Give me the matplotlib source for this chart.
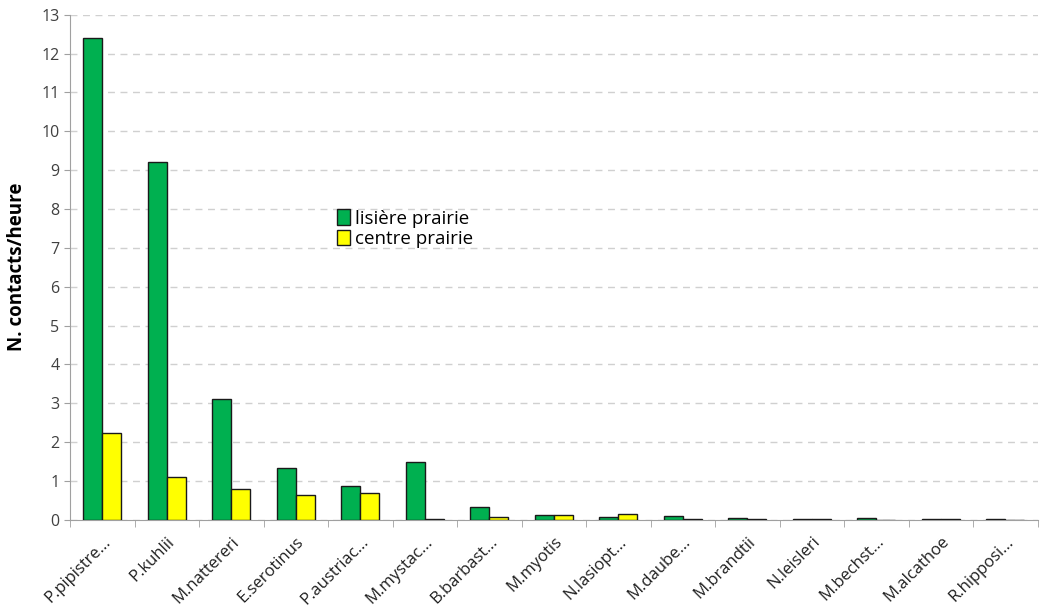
import numpy as np
import matplotlib.pyplot as plt

# Species and contact rates (contacts/hour)
species = ['P.pipistre...', 'P.kuhlii', 'M.nattereri', 'E.serotinus', 'P.austriac...',
           'M.mystac...', 'B.barbast...', 'M.myotis', 'N.lasiopt...', 'M.daube...',
           'M.brandtii', 'N.leisleri', 'M.bechst...', 'M.alcathoe', 'R.hipposi...']
lisiere = [12.4, 9.2, 3.1, 1.33, 0.88, 1.49, 0.33, 0.13, 0.07, 0.09,
           0.05, 0.01, 0.05, 0.01, 0.03]
centre = [2.24, 1.11, 0.79, 0.65, 0.68, 0.02, 0.07, 0.12, 0.14, 0.02,
          0.03, 0.03, 0.0, 0.01, 0.0]

plt.rcParams['font.family'] = ['Open Sans', 'DejaVu Sans']

fig = plt.figure(figsize=(10.45, 6.13), dpi=100)
ax = fig.add_axes([0.067, 0.152, 0.926, 0.824])

x = np.arange(len(species))
w = 0.295
ax.bar(x - w / 2, lisiere, w, color='#00B050', edgecolor='#1a1a1a', linewidth=1,
       label='lisière prairie', zorder=3)
ax.bar(x + w / 2, centre, w, color='#FFFF00', edgecolor='#1a1a1a', linewidth=1,
       label='centre prairie', zorder=3)

ax.set_xlim(-0.5, len(species) - 0.5)
ax.set_ylim(0, 13)
ax.set_yticks(range(0, 14))
ax.tick_params(axis='y', labelsize=11.5, colors='#404040', length=4, color='#a0a0a0')
ax.set_xticks(x)
ax.set_xticklabels(species, rotation=45, ha='right', rotation_mode='anchor',
                   fontsize=12, color='#202020')
ax.tick_params(axis='x', length=0, pad=10)
ax.set_xticks(np.arange(-0.5, len(species)), minor=True)
ax.tick_params(axis='x', which='minor', length=5, color='#a0a0a0')

ax.grid(axis='y', linestyle=(0, (5, 4)), color='#d0d0d0', linewidth=1, zorder=0)
for s in ['top', 'right']:
    ax.spines[s].set_visible(False)
for s in ['left', 'bottom']:
    ax.spines[s].set_color('#a0a0a0')

ax.set_ylabel('N. contacts/heure', fontsize=13.5, fontweight='bold', labelpad=10)

ax.legend(loc='upper left', bbox_to_anchor=(0.258, 0.648), frameon=False,
          fontsize=13.5, handlelength=0.7, handleheight=0.9, handletextpad=0.3,
          labelspacing=0.1)

fig.savefig('out.png', dpi=100)
